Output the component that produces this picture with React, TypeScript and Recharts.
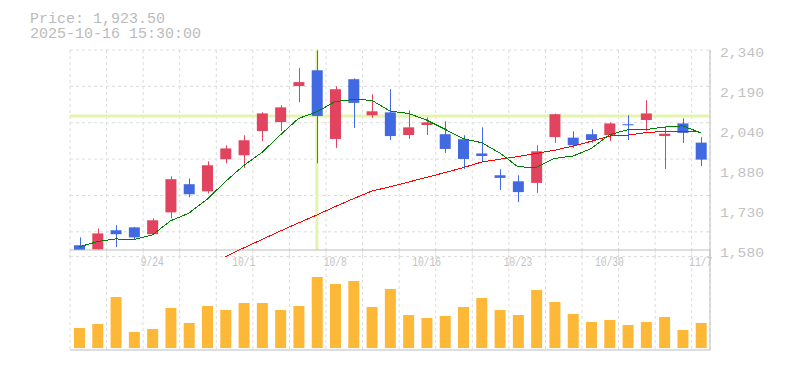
import {
  Bar,
  BarChart,
  CartesianGrid,
  ComposedChart,
  Line,
  ReferenceLine,
  XAxis,
  YAxis,
} from 'recharts'

const dates = [
  '9/17', '9/18', '9/19', '9/22', '9/24', '9/25', '9/26', '9/29', '9/30', '10/1',
  '10/2', '10/3', '10/6', '10/7', '10/8', '10/9', '10/10', '10/14', '10/15', '10/16',
  '10/17', '10/20', '10/21', '10/22', '10/23', '10/24', '10/27', '10/28', '10/29', '10/30',
  '10/31', '11/4', '11/5', '11/6', '11/7',
]

const opens = [
  1598, 1582, 1655, 1666, 1640, 1723, 1830, 1803, 1925, 1940,
  2032, 2066, 2203, 2263, 2002, 2229, 2092, 2103, 2017, 2055,
  2020, 2001, 1947, 1864, 1841, 1835, 2009, 2007, 2020, 2017,
  2058, 2074, 2013, 2061, 1988,
]
const highs = [
  1628, 1662, 1674, 1668, 1700, 1860, 1852, 1917, 1978, 2016,
  2103, 2130, 2272, 2338, 2202, 2232, 2172, 2191, 2111, 2084,
  2069, 2016, 2046, 1887, 1864, 1978, 2098, 2031, 2039, 2065,
  2092, 2149, 2050, 2080, 2009,
]
const lows = [
  1580, 1580, 1591, 1621, 1638, 1700, 1780, 1795, 1909, 1892,
  1994, 2032, 2142, 1909, 1968, 2044, 2082, 1998, 2002, 2017,
  1949, 1888, 1917, 1808, 1762, 1797, 1987, 1968, 1987, 1994,
  1998, 2032, 1888, 1987, 1899,
]
const closes = [
  1580, 1643, 1640, 1628, 1693, 1849, 1792, 1902, 1966, 1997,
  2099, 2122, 2218, 2089, 2191, 2139, 2107, 2013, 2046, 2065,
  1964, 1926, 1937, 1854, 1800, 1955, 2096, 1978, 1998, 2061,
  2054, 2099, 2022, 2025, 1923.5,
]

// short (5 day) and long (25 day) moving averages
const ma5 = [
  1592, 1612, 1622, 1620, 1637, 1691, 1720, 1773, 1840, 1901,
  1951, 2017, 2080, 2105, 2144, 2152, 2149, 2108, 2099, 2074,
  2039, 2003, 1988, 1949, 1896, 1894, 1928, 1937, 1965, 2018,
  2037, 2038, 2047, 2052, 2025,
]
const ma25 = [
  null, null, null, null, null, null, null, null, 1555, 1588,
  1620, 1652, 1683, 1713, 1745, 1775, 1804, 1820, 1838, 1856,
  1874, 1893, 1914, 1925, 1935, 1947, 1959, 1975, 1993, 2013,
  2016, 2026, 2031, 2032, 2028,
]

const volumes = [
  200000, 240000, 510000, 160000, 190000, 400000, 250000, 420000, 380000, 450000,
  450000, 380000, 420000, 710000, 640000, 670000, 410000, 590000, 330000, 300000,
  320000, 410000, 500000, 380000, 330000, 580000, 460000, 340000, 260000, 280000,
  230000, 260000, 310000, 180000, 250000,
]

const xTickLabels = ['9/24', '10/1', '10/8', '10/16', '10/23', '10/30', '11/7']
const yTicks = [1580, 1732, 1884, 2036, 2188, 2340]

const priceText = 'Price: 1,923.50'
const timeText = '2025-10-16 15:30:00'
const crossIndex = 13

const UP = '#e2435e'
const DOWN = '#4169e1'
const GRID = '#dcdcdc'
const AXIS = '#bdbdbd'
const LABEL = '#c2c2c2'
const CROSS = '#e4f4ae'
const MONO = '"Liberation Mono", "DejaVu Sans Mono", monospace'

const data = dates.map((d, i) => ({
  i,
  date: d,
  open: opens[i],
  high: highs[i],
  low: lows[i],
  close: closes[i],
  ma5: ma5[i],
  ma25: ma25[i],
  volume: volumes[i],
}))

const Y_MAX = yTicks[yTicks.length - 1]
const Y_AXIS_MIN = yTicks[0]
// the long average dips below the axis; let the scale run a bit further down
// so that line is not clipped, and keep the visible axis at Y_AXIS_MIN
const Y_MIN = Math.min(Y_AXIS_MIN, ...ma25.filter((v): v is number => v != null))
const PLOT_TOP = 50
const AXIS_H = 200
const PLOT_H = (AXIS_H * (Y_MAX - Y_MIN)) / (Y_MAX - Y_AXIS_MIN)
const PRICE_H = 280
const X_AXIS_H = PRICE_H - PLOT_TOP - PLOT_H
const EXTRA = PLOT_H - AXIS_H

const xTicks = xTickLabels.map((l) => dates.indexOf(l))
const xGridTicks = dates.map((_, i) => i - 0.5)
const yGridTicks = Array.from({ length: 12 }, (_, i) => Y_AXIS_MIN + (i * (Y_MAX - Y_AXIS_MIN)) / 11)
const X_DOMAIN: [number, number] = [-0.5, dates.length - 0.5]

const fmtPrice = (v: number) => (Math.round(v / 10) * 10).toLocaleString('en-US')

function Candle(props: any) {
  const { x, y, width, height, payload } = props
  if (!payload) return null
  const { open, close, high, low } = payload
  const top = Math.min(y, y + height)
  const h = Math.abs(height)
  const py = (v: number) => (high === low ? top : top + ((high - v) / (high - low)) * h)
  const color = close >= open ? UP : DOWN
  const bodyTop = py(Math.max(open, close))
  const bodyH = Math.max(1, Math.abs(py(open) - py(close)))
  const cx = Math.round(x + width / 2) + 0.5
  return (
    <g>
      <line x1={cx} x2={cx} y1={py(high)} y2={py(low)} stroke={color} strokeWidth={1} />
      <rect x={x} y={bodyTop} width={width} height={bodyH} fill={color} />
    </g>
  )
}

function XTick(props: any) {
  const { x, y, payload } = props
  const label = dates[payload.value] ?? ''
  return (
    <text
      x={x}
      y={y - EXTRA + 10.3}
      textAnchor="middle"
      fill={LABEL}
      fontSize={13}
      fontFamily={MONO}
      textLength={label.length * 5.75}
      lengthAdjust="spacingAndGlyphs"
    >
      {label}
    </text>
  )
}

function YTick(props: any) {
  const { x, y, payload } = props
  const label = fmtPrice(payload.value)
  return (
    <text
      x={x}
      y={y + 6.6}
      fill={LABEL}
      fontSize={12}
      fontFamily={MONO}
      textLength={label.length * 8.8}
      lengthAdjust="spacingAndGlyphs"
    >
      {label}
    </text>
  )
}

export default function App() {
  return (
    <div style={{ position: 'absolute', left: 0, top: 0, width: 785, height: 370, background: '#fff' }}>
      <svg width={785} height={45} style={{ position: 'absolute', left: 0, top: 0 }}>
        <text x={30} y={22.7} fill="#bbbbbb" fontSize={15} fontFamily={MONO}>
          {priceText}
        </text>
        <text x={30} y={37.7} fill="#bbbbbb" fontSize={15} fontFamily={MONO}>
          {timeText}
        </text>
      </svg>

      <div style={{ position: 'absolute', left: 0, top: 0 }}>
        <ComposedChart
          width={785}
          height={PRICE_H}
          data={data}
          margin={{ top: PLOT_TOP, right: 0, bottom: 0, left: 70 }}
        >
          <XAxis xAxisId="grid" type="number" dataKey="i" domain={X_DOMAIN} ticks={xGridTicks} allowDataOverflow hide />
          <YAxis yAxisId="grid" type="number" domain={[Y_MIN, Y_MAX]} ticks={yGridTicks} allowDataOverflow hide />
          <CartesianGrid xAxisId="grid" yAxisId="grid" stroke={GRID} strokeDasharray="3 3" />
          <XAxis
            type="number"
            dataKey="i"
            domain={X_DOMAIN}
            ticks={xTicks}
            interval={0}
            height={X_AXIS_H}
            axisLine={false}
            tickLine={false}
            tickMargin={0}
            tick={<XTick />}
          />
          <YAxis
            orientation="right"
            type="number"
            domain={[Y_MIN, Y_MAX]}
            ticks={yTicks}
            interval={0}
            width={75}
            tickLine={false}
            tickMargin={4}
            stroke={AXIS}
            tick={<YTick />}
          />
          <ReferenceLine y={Y_AXIS_MIN} stroke={AXIS} strokeWidth={1} />
          <ReferenceLine
            segment={[
              { x: crossIndex, y: Y_AXIS_MIN },
              { x: crossIndex, y: Y_MAX },
            ]}
            stroke={CROSS}
            strokeWidth={3}
            zIndex={0}
          />
          <ReferenceLine y={closes[crossIndex]} stroke={CROSS} strokeWidth={3} zIndex={0} />
          <Line
            dataKey="ma25"
            stroke="#ff0000"
            strokeWidth={1}
            dot={false}
            activeDot={false}
            isAnimationActive={false}
            style={{ shapeRendering: 'crispEdges' }}
          />
          <Line
            dataKey="ma5"
            stroke="#007f00"
            strokeWidth={1}
            dot={false}
            activeDot={false}
            isAnimationActive={false}
            style={{ shapeRendering: 'crispEdges' }}
          />
          <Bar
            dataKey={(d: any) => [d.low, d.high]}
            barSize={11}
            shape={<Candle />}
            isAnimationActive={false}
          />
        </ComposedChart>
      </div>

      <div style={{ position: 'absolute', left: 0, top: 240 }}>
        <BarChart width={785} height={112} data={data} margin={{ top: 10, right: 0, bottom: 0, left: 70 }}>
          <XAxis xAxisId="grid" type="number" dataKey="i" domain={X_DOMAIN} ticks={xGridTicks} allowDataOverflow hide />
          <CartesianGrid xAxisId="grid" horizontal={false} stroke={GRID} strokeDasharray="3 3" />
          <XAxis type="number" dataKey="i" domain={X_DOMAIN} height={2} tick={false} tickLine={false} stroke={AXIS} />
          <YAxis
            orientation="right"
            type="number"
            domain={[() => -20000, () => 980000]}
            width={75}
            tick={false}
            tickLine={false}
            stroke={AXIS}
          />
          <Bar dataKey="volume" fill="#feb837" barSize={11} isAnimationActive={false} />
        </BarChart>
      </div>
    </div>
  )
}
